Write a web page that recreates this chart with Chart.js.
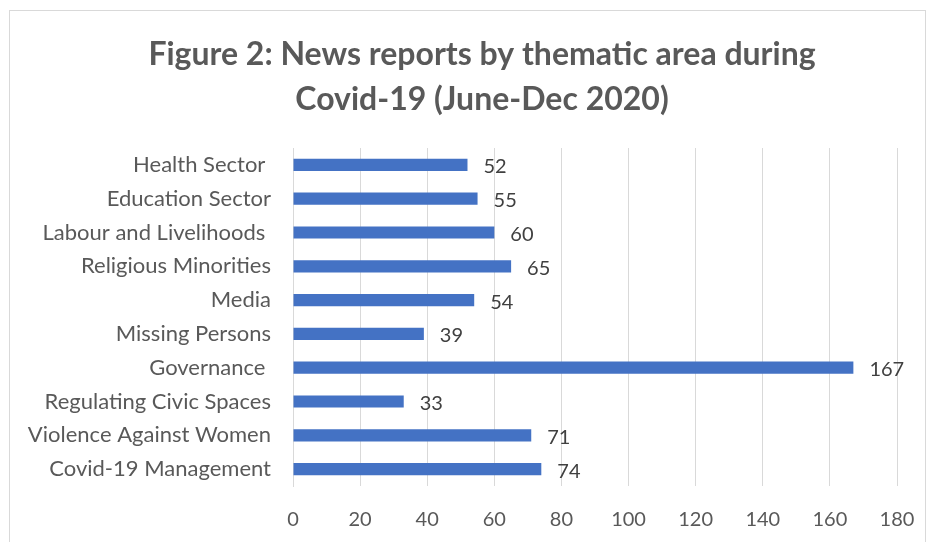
<!DOCTYPE html>
<html>
<head>
<meta charset="utf-8">
<script src="https://cdn.jsdelivr.net/npm/chart.js@4.4.1/dist/chart.umd.min.js"></script>
<style>
  body { margin: 0; background: #fff; }
  #wrap { width: 932px; height: 542px; position: relative; }
</style>
</head>
<body>
<div id="wrap"><canvas id="grafico" width="932" height="542"></canvas></div>
<script>
// categorias (de cima para baixo, como no gráfico)
const categories = ['Health Sector ', 'Education Sector', 'Labour and Livelihoods ', 'Religious Minorities',
    'Media', 'Missing Persons', 'Governance ', 'Regulating Civic Spaces', 'Violence Against Women', 'Covid-19 Management']

// número de reportagens
const reports = [52, 55, 60, 65, 54, 39, 167, 33, 71, 74]

// marcas do eixo x
const xTicks = [0, 20, 40, 60, 80, 100, 120, 140, 160, 180]

const titleLines = ['Figure 2: News reports by thematic area during', 'Covid-19 (June-Dec 2020)']

const fontName = 'Lato, "Open Sans", sans-serif'

// moldura cinza em volta do gráfico
const frame = {
    id: 'frame',
    beforeDraw(chart) {
        const c = chart.ctx
        c.save()
        c.strokeStyle = '#d9d9d9'
        c.lineWidth = 1
        c.strokeRect(9.5, 10.5, 916, 600)
        c.restore()
    }
}

// título centrado na moldura (o título do Chart.js centra na largura toda)
const frameTitle = {
    id: 'frameTitle',
    afterDraw(chart) {
        const c = chart.ctx
        c.save()
        c.font = 'bold 32px ' + fontName
        c.fillStyle = '#595959'
        c.textAlign = 'center'
        c.textBaseline = 'middle'
        titleLines.forEach((line, i) => c.fillText(line, 482, 55 + i * 45))
        c.restore()
    }
}

// rótulos de valor à direita das barras
const valueLabels = {
    id: 'valueLabels',
    afterDatasetsDraw(chart) {
        const c = chart.ctx
        const meta = chart.getDatasetMeta(0)
        c.save()
        c.font = '20px ' + fontName
        c.fillStyle = '#404040'
        c.textAlign = 'left'
        c.textBaseline = 'middle'
        meta.data.forEach((bar, i) => {
            c.fillText(String(reports[i]), bar.x + 16, bar.y + 2)
        })
        c.restore()
    }
}

let ctx = document.querySelector('#grafico').getContext('2d')
let barChart = new Chart(ctx, {
    type: 'bar',
    data: {
        labels: categories,
        datasets: [{
            label: 'News reports',
            data: reports,
            backgroundColor: '#4472C4',
            barPercentage: 0.36,
            categoryPercentage: 1
        }]
    },
    options: {
        indexAxis: 'y',
        responsive: false,
        animation: false,
        layout: { padding: { left: 0, right: 35, top: 148, bottom: 0 } },
        plugins: {
            legend: { display: false },
            tooltip: { enabled: false },
            title: { display: false }
        },
        scales: {
            x: {
                min: 0,
                max: 180,
                afterBuildTicks(scale) { scale.ticks = xTicks.map(v => ({ value: v })) },
                afterFit(scale) {
                    scale.height = 56
                    scale.paddingRight = 0
                },
                grid: { color: '#d9d9d9', drawTicks: false },
                border: { display: false },
                ticks: { color: '#595959', padding: 22, font: { family: fontName, size: 20 } }
            },
            y: {
                afterFit(scale) { scale.width = 293 },
                grid: { display: false, drawTicks: false },
                border: { display: true, color: '#d9d9d9' },
                ticks: { color: '#595959', padding: 22, font: { family: fontName, size: 22 } }
            }
        }
    },
    plugins: [frame, frameTitle, valueLabels]
})
</script>
</body>
</html>
